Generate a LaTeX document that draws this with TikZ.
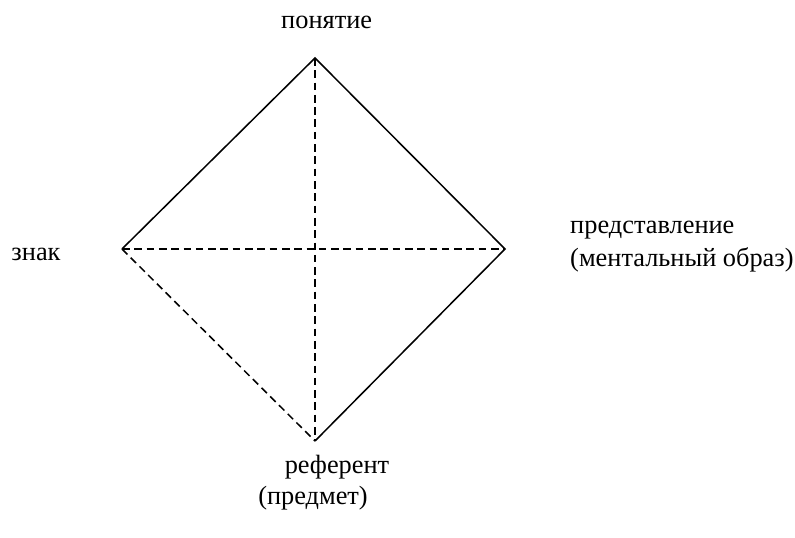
\documentclass[tikz,border=0pt]{standalone}
\usepackage{fontspec}
\setmainfont{Liberation Serif}
\usepackage{tikz}
\usetikzlibrary{positioning}

\begin{document}
\begin{tikzpicture}[
    lbl/.style={inner sep=0pt, font=\fontsize{22.5}{28}\selectfont},
    side/.style={black, line width=1.3pt},
    dsh/.style={black, line width=1.3pt, dash pattern=on 6.5pt off 4pt}]
    \useasboundingbox (0,0) rectangle (23.85,16.11);

    % vershiny
    \coordinate (top) at (9.45,14.37);
    \coordinate (lft) at (3.66,8.64);
    \coordinate (rgt) at (15.15,8.64);
    \coordinate (bot) at (9.45,2.88);

    % podpisi
    \node[lbl] (ponyatie) at (9.8,15.45) {понятие};
    \node[lbl] (znak) at (1.08,8.48) {знак};
    \node[lbl, anchor=west, align=left] (predst) at (17.1,8.72) {представление\\(ментальный образ)};
    \node[lbl] (referent) at (10.11,2.1) {референт};
    \node[lbl] (predmet) at (9.39,1.17) {(предмет)};

    % storony
    \draw[side] (lft) -- (top) -- (rgt) -- (bot);
    \draw[dsh] (lft) -- (bot);
    \draw[dsh] (lft) -- (rgt);
    \draw[dsh] (top) -- (bot);
\end{tikzpicture}
\end{document}
